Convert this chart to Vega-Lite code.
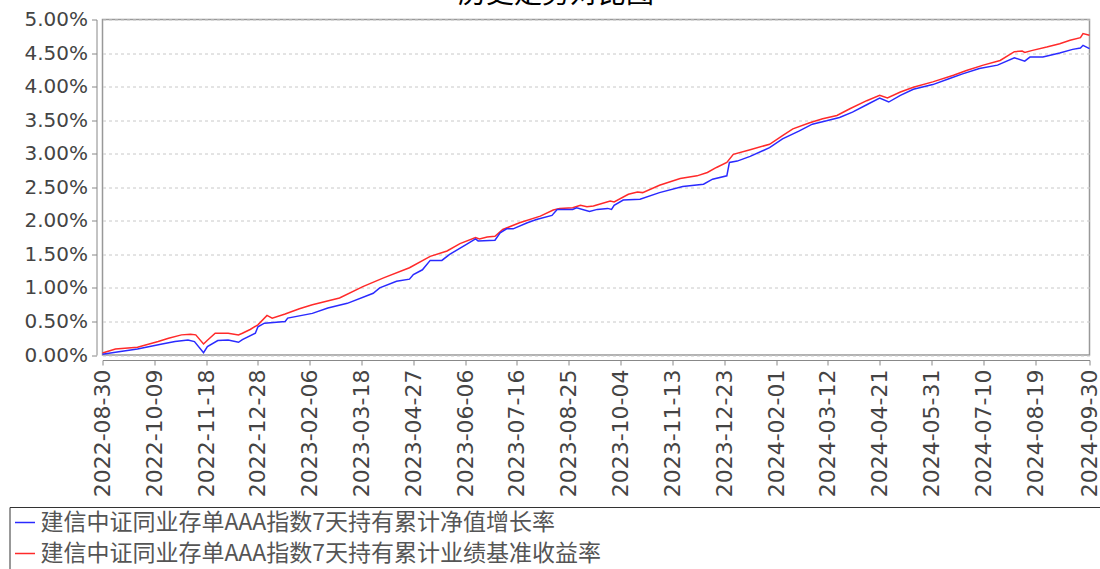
{
  "$schema": "https://vega.github.io/schema/vega-lite/v6.json",
  "width": 987,
  "height": 335.5,
  "autosize": {"type": "none"},
  "padding": {"left": 102.5, "top": 19.5, "right": 10.5, "bottom": 214},
  "background": "white",
  "title": {"text": "历史走势对比图", "anchor": "middle", "frame": "group", "dx": -40, "dy": 6, "offset": 7, "fontSize": 28, "font": "Noto Sans CJK SC", "fontWeight": "normal", "color": "#000000"},
  "config": {"view": {"stroke": "#999999", "strokeWidth": 1.5}},
  "datasets": {
    "pts": [
      {"date": "2022-08-30", "value": 0.03, "s": "建信中证同业存单AAA指数7天持有累计业绩基准收益率"},
      {"date": "2022-09-09", "value": 0.09, "s": "建信中证同业存单AAA指数7天持有累计业绩基准收益率"},
      {"date": "2022-09-26", "value": 0.115, "s": "建信中证同业存单AAA指数7天持有累计业绩基准收益率"},
      {"date": "2022-10-12", "value": 0.20, "s": "建信中证同业存单AAA指数7天持有累计业绩基准收益率"},
      {"date": "2022-10-20", "value": 0.25, "s": "建信中证同业存单AAA指数7天持有累计业绩基准收益率"},
      {"date": "2022-10-30", "value": 0.30, "s": "建信中证同业存单AAA指数7天持有累计业绩基准收益率"},
      {"date": "2022-11-06", "value": 0.31, "s": "建信中证同业存单AAA指数7天持有累计业绩基准收益率"},
      {"date": "2022-11-10", "value": 0.30, "s": "建信中证同业存单AAA指数7天持有累计业绩基准收益率"},
      {"date": "2022-11-16", "value": 0.165, "s": "建信中证同业存单AAA指数7天持有累计业绩基准收益率"},
      {"date": "2022-11-19", "value": 0.22, "s": "建信中证同业存单AAA指数7天持有累计业绩基准收益率"},
      {"date": "2022-11-25", "value": 0.325, "s": "建信中证同业存单AAA指数7天持有累计业绩基准收益率"},
      {"date": "2022-12-05", "value": 0.325, "s": "建信中证同业存单AAA指数7天持有累计业绩基准收益率"},
      {"date": "2022-12-13", "value": 0.30, "s": "建信中证同业存单AAA指数7天持有累计业绩基准收益率"},
      {"date": "2022-12-16", "value": 0.325, "s": "建信中证同业存单AAA指数7天持有累计业绩基准收益率"},
      {"date": "2022-12-22", "value": 0.38, "s": "建信中证同业存单AAA指数7天持有累计业绩基准收益率"},
      {"date": "2022-12-28", "value": 0.45, "s": "建信中证同业存单AAA指数7天持有累计业绩基准收益率"},
      {"date": "2023-01-04", "value": 0.59, "s": "建信中证同业存单AAA指数7天持有累计业绩基准收益率"},
      {"date": "2023-01-08", "value": 0.55, "s": "建信中证同业存单AAA指数7天持有累计业绩基准收益率"},
      {"date": "2023-01-18", "value": 0.61, "s": "建信中证同业存单AAA指数7天持有累计业绩基准收益率"},
      {"date": "2023-01-29", "value": 0.69, "s": "建信中证同业存单AAA指数7天持有累计业绩基准收益率"},
      {"date": "2023-02-08", "value": 0.75, "s": "建信中证同业存单AAA指数7天持有累计业绩基准收益率"},
      {"date": "2023-03-01", "value": 0.85, "s": "建信中证同业存单AAA指数7天持有累计业绩基准收益率"},
      {"date": "2023-03-19", "value": 1.02, "s": "建信中证同业存单AAA指数7天持有累计业绩基准收益率"},
      {"date": "2023-04-04", "value": 1.15, "s": "建信中证同业存单AAA指数7天持有累计业绩基准收益率"},
      {"date": "2023-04-24", "value": 1.30, "s": "建信中证同业存单AAA指数7天持有累计业绩基准收益率"},
      {"date": "2023-05-10", "value": 1.47, "s": "建信中证同业存单AAA指数7天持有累计业绩基准收益率"},
      {"date": "2023-05-23", "value": 1.55, "s": "建信中证同业存单AAA指数7天持有累计业绩基准收益率"},
      {"date": "2023-06-02", "value": 1.66, "s": "建信中证同业存单AAA指数7天持有累计业绩基准收益率"},
      {"date": "2023-06-14", "value": 1.75, "s": "建信中证同业存单AAA指数7天持有累计业绩基准收益率"},
      {"date": "2023-06-17", "value": 1.73, "s": "建信中证同业存单AAA指数7天持有累计业绩基准收益率"},
      {"date": "2023-06-23", "value": 1.76, "s": "建信中证同业存单AAA指数7天持有累计业绩基准收益率"},
      {"date": "2023-06-29", "value": 1.77, "s": "建信中证同业存单AAA指数7天持有累计业绩基准收益率"},
      {"date": "2023-07-05", "value": 1.87, "s": "建信中证同业存单AAA指数7天持有累计业绩基准收益率"},
      {"date": "2023-07-18", "value": 1.97, "s": "建信中证同业存单AAA指数7天持有累计业绩基准收益率"},
      {"date": "2023-08-03", "value": 2.07, "s": "建信中证同业存单AAA指数7天持有累计业绩基准收益率"},
      {"date": "2023-08-13", "value": 2.16, "s": "建信中证同业存单AAA指数7天持有累计业绩基准收益率"},
      {"date": "2023-08-18", "value": 2.185, "s": "建信中证同业存单AAA指数7天持有累计业绩基准收益率"},
      {"date": "2023-08-28", "value": 2.195, "s": "建信中证同业存单AAA指数7天持有累计业绩基准收益率"},
      {"date": "2023-09-03", "value": 2.23, "s": "建信中证同业存单AAA指数7天持有累计业绩基准收益率"},
      {"date": "2023-09-08", "value": 2.21, "s": "建信中证同业存单AAA指数7天持有累计业绩基准收益率"},
      {"date": "2023-09-13", "value": 2.22, "s": "建信中证同业存单AAA指数7天持有累计业绩基准收益率"},
      {"date": "2023-09-26", "value": 2.295, "s": "建信中证同业存单AAA指数7天持有累计业绩基准收益率"},
      {"date": "2023-09-29", "value": 2.28, "s": "建信中证同业存单AAA指数7天持有累计业绩基准收益率"},
      {"date": "2023-10-10", "value": 2.395, "s": "建信中证同业存单AAA指数7天持有累计业绩基准收益率"},
      {"date": "2023-10-17", "value": 2.43, "s": "建信中证同业存单AAA指数7天持有累计业绩基准收益率"},
      {"date": "2023-10-21", "value": 2.42, "s": "建信中证同业存单AAA指数7天持有累计业绩基准收益率"},
      {"date": "2023-11-03", "value": 2.53, "s": "建信中证同业存单AAA指数7天持有累计业绩基准收益率"},
      {"date": "2023-11-19", "value": 2.63, "s": "建信中证同业存单AAA指数7天持有累计业绩基准收益率"},
      {"date": "2023-12-02", "value": 2.67, "s": "建信中证同业存单AAA指数7天持有累计业绩基准收益率"},
      {"date": "2023-12-10", "value": 2.72, "s": "建信中证同业存单AAA指数7天持有累计业绩基准收益率"},
      {"date": "2023-12-17", "value": 2.795, "s": "建信中证同业存单AAA指数7天持有累计业绩基准收益率"},
      {"date": "2023-12-25", "value": 2.87, "s": "建信中证同业存单AAA指数7天持有累计业绩基准收益率"},
      {"date": "2023-12-30", "value": 2.99, "s": "建信中证同业存单AAA指数7天持有累计业绩基准收益率"},
      {"date": "2024-01-12", "value": 3.06, "s": "建信中证同业存单AAA指数7天持有累计业绩基准收益率"},
      {"date": "2024-01-27", "value": 3.14, "s": "建信中证同业存单AAA指数7天持有累计业绩基准收益率"},
      {"date": "2024-02-06", "value": 3.27, "s": "建信中证同业存单AAA指数7天持有累计业绩基准收益率"},
      {"date": "2024-02-14", "value": 3.37, "s": "建信中证同业存单AAA指数7天持有累计业绩基准收益率"},
      {"date": "2024-02-27", "value": 3.46, "s": "建信中证同业存单AAA指数7天持有累计业绩基准收益率"},
      {"date": "2024-03-08", "value": 3.52, "s": "建信中证同业存单AAA指数7天持有累计业绩基准收益率"},
      {"date": "2024-03-19", "value": 3.57, "s": "建信中证同业存单AAA指数7天持有累计业绩基准收益率"},
      {"date": "2024-03-29", "value": 3.67, "s": "建信中证同业存单AAA指数7天持有累计业绩基准收益率"},
      {"date": "2024-04-11", "value": 3.79, "s": "建信中证同业存单AAA指数7天持有累计业绩基准收益率"},
      {"date": "2024-04-21", "value": 3.87, "s": "建信中证同业存单AAA指数7天持有累计业绩基准收益率"},
      {"date": "2024-04-27", "value": 3.83, "s": "建信中证同业存单AAA指数7天持有累计业绩基准收益率"},
      {"date": "2024-05-07", "value": 3.92, "s": "建信中证同业存单AAA指数7天持有累计业绩基准收益率"},
      {"date": "2024-05-17", "value": 3.99, "s": "建信中证同业存单AAA指数7天持有累计业绩基准收益率"},
      {"date": "2024-06-01", "value": 4.07, "s": "建信中证同业存单AAA指数7天持有累计业绩基准收益率"},
      {"date": "2024-06-17", "value": 4.17, "s": "建信中证同业存单AAA指数7天持有累计业绩基准收益率"},
      {"date": "2024-06-27", "value": 4.24, "s": "建信中证同业存单AAA指数7天持有累计业绩基准收益率"},
      {"date": "2024-07-10", "value": 4.32, "s": "建信中证同业存单AAA指数7天持有累计业绩基准收益率"},
      {"date": "2024-07-23", "value": 4.39, "s": "建信中证同业存单AAA指数7天持有累计业绩基准收益率"},
      {"date": "2024-08-03", "value": 4.52, "s": "建信中证同业存单AAA指数7天持有累计业绩基准收益率"},
      {"date": "2024-08-09", "value": 4.53, "s": "建信中证同业存单AAA指数7天持有累计业绩基准收益率"},
      {"date": "2024-08-11", "value": 4.51, "s": "建信中证同业存单AAA指数7天持有累计业绩基准收益率"},
      {"date": "2024-08-17", "value": 4.54, "s": "建信中证同业存单AAA指数7天持有累计业绩基准收益率"},
      {"date": "2024-08-28", "value": 4.59, "s": "建信中证同业存单AAA指数7天持有累计业绩基准收益率"},
      {"date": "2024-09-07", "value": 4.64, "s": "建信中证同业存单AAA指数7天持有累计业绩基准收益率"},
      {"date": "2024-09-15", "value": 4.69, "s": "建信中证同业存单AAA指数7天持有累计业绩基准收益率"},
      {"date": "2024-09-23", "value": 4.73, "s": "建信中证同业存单AAA指数7天持有累计业绩基准收益率"},
      {"date": "2024-09-25", "value": 4.79, "s": "建信中证同业存单AAA指数7天持有累计业绩基准收益率"},
      {"date": "2024-09-30", "value": 4.765, "s": "建信中证同业存单AAA指数7天持有累计业绩基准收益率"},
      {"date": "2022-08-30", "value": 0.01, "s": "建信中证同业存单AAA指数7天持有累计净值增长率"},
      {"date": "2022-09-09", "value": 0.04, "s": "建信中证同业存单AAA指数7天持有累计净值增长率"},
      {"date": "2022-09-26", "value": 0.09, "s": "建信中证同业存单AAA指数7天持有累计净值增长率"},
      {"date": "2022-10-15", "value": 0.165, "s": "建信中证同业存单AAA指数7天持有累计净值增长率"},
      {"date": "2022-10-25", "value": 0.20, "s": "建信中证同业存单AAA指数7天持有累计净值增长率"},
      {"date": "2022-11-04", "value": 0.225, "s": "建信中证同业存单AAA指数7天持有累计净值增长率"},
      {"date": "2022-11-09", "value": 0.20, "s": "建信中证同业存单AAA指数7天持有累计净值增长率"},
      {"date": "2022-11-16", "value": 0.035, "s": "建信中证同业存单AAA指数7天持有累计净值增长率"},
      {"date": "2022-11-19", "value": 0.125, "s": "建信中证同业存单AAA指数7天持有累计净值增长率"},
      {"date": "2022-11-27", "value": 0.215, "s": "建信中证同业存单AAA指数7天持有累计净值增长率"},
      {"date": "2022-12-05", "value": 0.225, "s": "建信中证同业存单AAA指数7天持有累计净值增长率"},
      {"date": "2022-12-13", "value": 0.19, "s": "建信中证同业存单AAA指数7天持有累计净值增长率"},
      {"date": "2022-12-16", "value": 0.23, "s": "建信中证同业存单AAA指数7天持有累计净值增长率"},
      {"date": "2022-12-26", "value": 0.325, "s": "建信中证同业存单AAA指数7天持有累计净值增长率"},
      {"date": "2022-12-28", "value": 0.42, "s": "建信中证同业存单AAA指数7天持有累计净值增长率"},
      {"date": "2023-01-02", "value": 0.475, "s": "建信中证同业存单AAA指数7天持有累计净值增长率"},
      {"date": "2023-01-18", "value": 0.50, "s": "建信中证同业存单AAA指数7天持有累计净值增长率"},
      {"date": "2023-01-20", "value": 0.55, "s": "建信中证同业存单AAA指数7天持有累计净值增长率"},
      {"date": "2023-02-08", "value": 0.62, "s": "建信中证同业存单AAA指数7天持有累计净值增长率"},
      {"date": "2023-02-20", "value": 0.70, "s": "建信中证同业存单AAA指数7天持有累计净值增长率"},
      {"date": "2023-03-07", "value": 0.77, "s": "建信中证同业存单AAA指数7天持有累计净值增长率"},
      {"date": "2023-03-27", "value": 0.92, "s": "建信中证同业存单AAA指数7天持有累计净值增长率"},
      {"date": "2023-04-01", "value": 1.00, "s": "建信中证同业存单AAA指数7天持有累计净值增长率"},
      {"date": "2023-04-14", "value": 1.10, "s": "建信中证同业存单AAA指数7天持有累计净值增长率"},
      {"date": "2023-04-24", "value": 1.13, "s": "建信中证同业存单AAA指数7天持有累计净值增长率"},
      {"date": "2023-04-27", "value": 1.20, "s": "建信中证同业存单AAA指数7天持有累计净值增长率"},
      {"date": "2023-05-04", "value": 1.27, "s": "建信中证同业存单AAA指数7天持有累计净值增长率"},
      {"date": "2023-05-10", "value": 1.41, "s": "建信中证同业存单AAA指数7天持有累计净值增长率"},
      {"date": "2023-05-19", "value": 1.41, "s": "建信中证同业存单AAA指数7天持有累计净值增长率"},
      {"date": "2023-05-25", "value": 1.50, "s": "建信中证同业存单AAA指数7天持有累计净值增长率"},
      {"date": "2023-06-07", "value": 1.65, "s": "建信中证同业存单AAA指数7天持有累计净值增长率"},
      {"date": "2023-06-14", "value": 1.73, "s": "建信中证同业存单AAA指数7天持有累计净值增长率"},
      {"date": "2023-06-16", "value": 1.70, "s": "建信中证同业存单AAA指数7天持有累计净值增长率"},
      {"date": "2023-06-29", "value": 1.71, "s": "建信中证同业存单AAA指数7天持有累计净值增长率"},
      {"date": "2023-07-03", "value": 1.82, "s": "建信中证同业存单AAA指数7天持有累计净值增长率"},
      {"date": "2023-07-08", "value": 1.88, "s": "建信中证同业存单AAA指数7天持有累计净值增长率"},
      {"date": "2023-07-13", "value": 1.88, "s": "建信中证同业存单AAA指数7天持有累计净值增长率"},
      {"date": "2023-07-24", "value": 1.97, "s": "建信中证同业存单AAA指数7天持有累计净值增长率"},
      {"date": "2023-07-31", "value": 2.02, "s": "建信中证同业存单AAA指数7天持有累计净值增长率"},
      {"date": "2023-08-12", "value": 2.08, "s": "建信中证同业存单AAA指数7天持有累计净值增长率"},
      {"date": "2023-08-16", "value": 2.17, "s": "建信中证同业存单AAA指数7天持有累计净值增长率"},
      {"date": "2023-08-28", "value": 2.17, "s": "建信中证同业存单AAA指数7天持有累计净值增长率"},
      {"date": "2023-08-31", "value": 2.195, "s": "建信中证同业存单AAA指数7天持有累计净值增长率"},
      {"date": "2023-09-10", "value": 2.14, "s": "建信中证同业存单AAA指数7天持有累计净值增长率"},
      {"date": "2023-09-16", "value": 2.17, "s": "建信中证同业存单AAA指数7天持有累计净值增长率"},
      {"date": "2023-09-24", "value": 2.185, "s": "建信中证同业存单AAA指数7天持有累计净值增长率"},
      {"date": "2023-09-27", "value": 2.17, "s": "建信中证同业存单AAA指数7天持有累计净值增长率"},
      {"date": "2023-09-29", "value": 2.23, "s": "建信中证同业存单AAA指数7天持有累计净值增长率"},
      {"date": "2023-10-06", "value": 2.31, "s": "建信中证同业存单AAA指数7天持有累计净值增长率"},
      {"date": "2023-10-19", "value": 2.32, "s": "建信中证同业存单AAA指数7天持有累计净值增长率"},
      {"date": "2023-11-03", "value": 2.42, "s": "建信中证同业存单AAA指数7天持有累计净值增长率"},
      {"date": "2023-11-21", "value": 2.51, "s": "建信中证同业存单AAA指数7天持有累计净值增长率"},
      {"date": "2023-12-07", "value": 2.545, "s": "建信中证同业存单AAA指数7天持有累计净值增长率"},
      {"date": "2023-12-14", "value": 2.62, "s": "建信中证同业存单AAA指数7天持有累计净值增长率"},
      {"date": "2023-12-25", "value": 2.67, "s": "建信中证同业存单AAA指数7天持有累计净值增长率"},
      {"date": "2023-12-27", "value": 2.87, "s": "建信中证同业存单AAA指数7天持有累计净值增长率"},
      {"date": "2024-01-02", "value": 2.89, "s": "建信中证同业存单AAA指数7天持有累计净值增长率"},
      {"date": "2024-01-12", "value": 2.96, "s": "建信中证同业存单AAA指数7天持有累计净值增长率"},
      {"date": "2024-01-27", "value": 3.09, "s": "建信中证同业存单AAA指数7天持有累计净值增长率"},
      {"date": "2024-02-06", "value": 3.22, "s": "建信中证同业存单AAA指数7天持有累计净值增长率"},
      {"date": "2024-02-19", "value": 3.34, "s": "建信中证同业存单AAA指数7天持有累计净值增长率"},
      {"date": "2024-02-29", "value": 3.44, "s": "建信中证同业存单AAA指数7天持有累计净值增长率"},
      {"date": "2024-03-11", "value": 3.49, "s": "建信中证同业存单AAA指数7天持有累计净值增长率"},
      {"date": "2024-03-21", "value": 3.54, "s": "建信中证同业存单AAA指数7天持有累计净值增长率"},
      {"date": "2024-03-31", "value": 3.62, "s": "建信中证同业存单AAA指数7天持有累计净值增长率"},
      {"date": "2024-04-11", "value": 3.73, "s": "建信中证同业存单AAA指数7天持有累计净值增长率"},
      {"date": "2024-04-21", "value": 3.83, "s": "建信中证同业存单AAA指数7天持有累计净值增长率"},
      {"date": "2024-04-28", "value": 3.77, "s": "建信中证同业存单AAA指数7天持有累计净值增长率"},
      {"date": "2024-05-07", "value": 3.87, "s": "建信中证同业存单AAA指数7天持有累计净值增长率"},
      {"date": "2024-05-17", "value": 3.96, "s": "建信中证同业存单AAA指数7天持有累计净值增长率"},
      {"date": "2024-06-01", "value": 4.03, "s": "建信中证同业存单AAA指数7天持有累计净值增长率"},
      {"date": "2024-06-14", "value": 4.12, "s": "建信中证同业存单AAA指数7天持有累计净值增长率"},
      {"date": "2024-06-24", "value": 4.19, "s": "建信中证同业存单AAA指数7天持有累计净值增长率"},
      {"date": "2024-07-07", "value": 4.27, "s": "建信中证同业存单AAA指数7天持有累计净值增长率"},
      {"date": "2024-07-21", "value": 4.32, "s": "建信中证同业存单AAA指数7天持有累计净值增长率"},
      {"date": "2024-08-03", "value": 4.43, "s": "建信中证同业存单AAA指数7天持有累计净值增长率"},
      {"date": "2024-08-11", "value": 4.38, "s": "建信中证同业存单AAA指数7天持有累计净值增长率"},
      {"date": "2024-08-15", "value": 4.44, "s": "建信中证同业存单AAA指数7天持有累计净值增长率"},
      {"date": "2024-08-25", "value": 4.44, "s": "建信中证同业存单AAA指数7天持有累计净值增长率"},
      {"date": "2024-09-07", "value": 4.50, "s": "建信中证同业存单AAA指数7天持有累计净值增长率"},
      {"date": "2024-09-17", "value": 4.555, "s": "建信中证同业存单AAA指数7天持有累计净值增长率"},
      {"date": "2024-09-23", "value": 4.575, "s": "建信中证同业存单AAA指数7天持有累计净值增长率"},
      {"date": "2024-09-25", "value": 4.615, "s": "建信中证同业存单AAA指数7天持有累计净值增长率"},
      {"date": "2024-09-30", "value": 4.565, "s": "建信中证同业存单AAA指数7天持有累计净值增长率"}
    ]
  },
  "data": {"name": "pts"},
  "mark": {"type": "line", "strokeWidth": 1.5},
  "encoding": {
    "x": {
      "field": "date",
      "type": "temporal",
      "scale": {"type": "utc", "nice": false, "domain": [{"year": 2022, "month": 8, "date": 30, "utc": true}, {"year": 2024, "month": 9, "date": 30, "utc": true}]},
      "axis": {
        "title": null,
        "grid": false,
        "offset": 5,
        "tickSize": 5,
        "tickColor": "#888888",
        "domainColor": "#888888",
        "labelAngle": 270,
        "labelAlign": "right",
        "labelBaseline": "middle",
        "labelPadding": 4,
        "labelFont": "DejaVu Sans",
        "labelFontSize": 22,
        "labelColor": "#444444",
        "labelOverlap": false,
        "labelFlush": false,
        "labelBound": false,
        "labelExpr": "utcFormat(datum.value, '%Y-%m-%d')",
        "values": [
          {"year": 2022, "month": 8, "date": 30, "utc": true},
          {"year": 2022, "month": 10, "date": 9, "utc": true},
          {"year": 2022, "month": 11, "date": 18, "utc": true},
          {"year": 2022, "month": 12, "date": 28, "utc": true},
          {"year": 2023, "month": 2, "date": 6, "utc": true},
          {"year": 2023, "month": 3, "date": 18, "utc": true},
          {"year": 2023, "month": 4, "date": 27, "utc": true},
          {"year": 2023, "month": 6, "date": 6, "utc": true},
          {"year": 2023, "month": 7, "date": 16, "utc": true},
          {"year": 2023, "month": 8, "date": 25, "utc": true},
          {"year": 2023, "month": 10, "date": 4, "utc": true},
          {"year": 2023, "month": 11, "date": 13, "utc": true},
          {"year": 2023, "month": 12, "date": 23, "utc": true},
          {"year": 2024, "month": 2, "date": 1, "utc": true},
          {"year": 2024, "month": 3, "date": 12, "utc": true},
          {"year": 2024, "month": 4, "date": 21, "utc": true},
          {"year": 2024, "month": 5, "date": 31, "utc": true},
          {"year": 2024, "month": 7, "date": 10, "utc": true},
          {"year": 2024, "month": 8, "date": 19, "utc": true},
          {"year": 2024, "month": 9, "date": 30, "utc": true}
        ]
      }
    },
    "y": {
      "field": "value",
      "type": "quantitative",
      "scale": {"domain": [0, 5], "nice": false},
      "axis": {
        "title": null,
        "values": [0, 0.5, 1, 1.5, 2, 2.5, 3, 3.5, 4, 4.5, 5],
        "offset": 6,
        "tickSize": 5,
        "tickColor": "#888888",
        "domainColor": "#888888",
        "grid": true,
        "gridColor": "#c8c8c8",
        "gridDash": [3, 3],
        "labelPadding": 4,
        "labelFont": "DejaVu Sans",
        "labelFontSize": 20,
        "labelColor": "#444444",
        "labelExpr": "format(datum.value, '.2f') + '%'"
      }
    },
    "color": {
      "field": "s",
      "type": "nominal",
      "scale": {"domain": ["建信中证同业存单AAA指数7天持有累计净值增长率", "建信中证同业存单AAA指数7天持有累计业绩基准收益率"], "range": ["#2a2aff", "#ff2a2a"]},
      "legend": {
        "title": null,
        "orient": "none",
        "legendX": -93,
        "legendY": 487.5,
        "direction": "vertical",
        "strokeColor": "#333333",
        "padding": 4,
        "symbolType": "stroke",
        "symbolSize": 400,
        "symbolStrokeWidth": 1.5,
        "labelFont": "Noto Sans CJK SC",
        "labelFontSize": 23,
        "labelColor": "#555555",
        "labelLimit": 1600,
        "labelOffset": 4,
        "rowPadding": 7,
        "labelExpr": "datum.label + '⠀⠀⠀⠀⠀⠀⠀⠀⠀⠀⠀⠀⠀⠀⠀⠀⠀⠀⠀⠀⠀⠀⠀⠀⠀⠀⠀⠀⠀⠀⠀⠀⠀⠀⠀⠀⠀⠀⠀⠀⠀⠀⠀⠀⠀⠀⠀⠀⠀⠀⠀⠀⠀⠀⠀⠀⠀⠀⠀⠀⠀⠀⠀⠀⠀⠀⠀⠀⠀⠀⠀⠀⠀⠀⠀⠀⠀⠀⠀⠀'"
      }
    }
  }
}
